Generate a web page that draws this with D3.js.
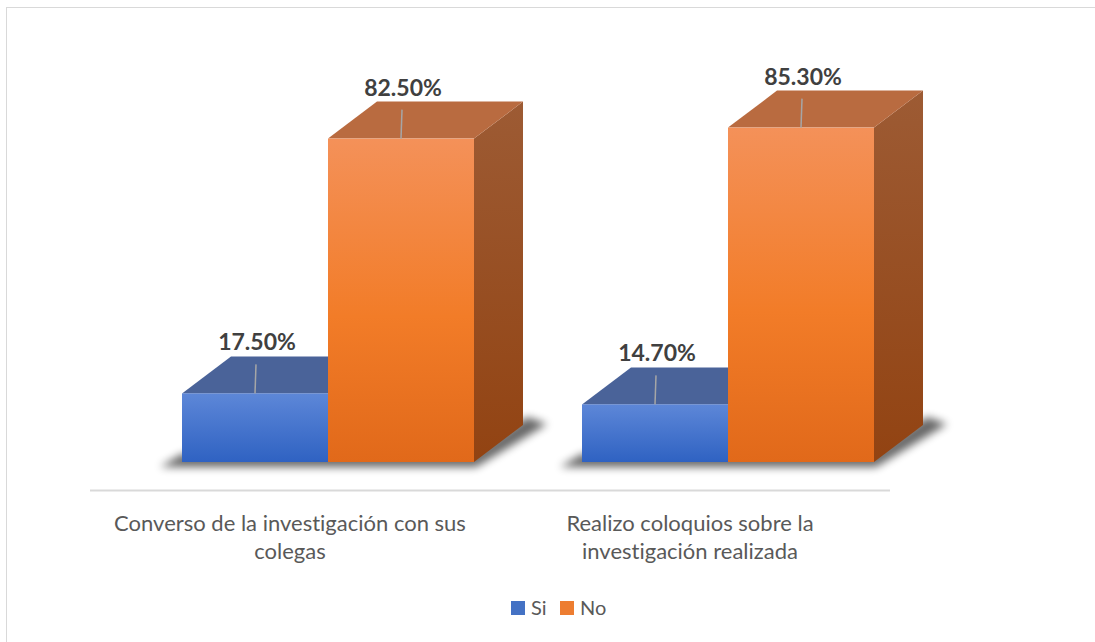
<!DOCTYPE html>
<html>
<head>
<meta charset="utf-8">
<script src="https://cdnjs.cloudflare.com/ajax/libs/d3/7.8.5/d3.min.js"></script>
<style>
  body { margin: 0; background: #fff; }
  svg { display: block; font-family: Lato, "Open Sans", sans-serif; font-variant-ligatures: none; }
  .catLabel { fill: #595959; font-size: 22px; }
  .valLabel { fill: #404040; font-size: 23px; font-weight: bold; }
  .legend text { fill: #595959; font-size: 20px; }
</style>
</head>
<body>
<script>
var w = 1095;
var h = 642;

// data
var categories = ["Converso de la investigación con sus colegas",
                  "Realizo coloquios sobre la investigación realizada"];
var categoryLines = [["Converso de la investigación con sus", "colegas"],
                     ["Realizo coloquios sobre la", "investigación realizada"]];
var series = ["Si", "No"];
var siValues = [17.5, 14.7];
var noValues = [82.5, 85.3];
var valueLabels = [["17.50%", "82.50%"], ["14.70%", "85.30%"]];

// 3d depth offset
var dx = 49, dy = -37;
var base = 462;

var xScale = d3.scaleBand().domain(categories).range([90, 890]);
var inner = d3.scaleBand().domain(series).range([92, 384]).padding(0);
var yScale = d3.scaleLinear().domain([0, 100]).range([base, 70]);

var svg = d3.select("body").append("svg")
    .attr("width", w)
    .attr("height", h);

var defs = svg.append("defs");

function vGrad(id, stops) {
    var g = defs.append("linearGradient").attr("id", id)
        .attr("x1", 0).attr("y1", 0).attr("x2", 0).attr("y2", 1);
    stops.forEach(function(s) {
        g.append("stop").attr("offset", s[0]).attr("stop-color", s[1]);
    });
}
vGrad("siFront", [[0, "#5d87d8"], [1, "#2f62c2"]]);
vGrad("noFront", [[0, "#f49159"], [0.55, "#f27c28"], [1, "#e1691a"]]);
vGrad("noSide", [[0, "#9d5b34"], [1, "#924312"]]);
vGrad("siSide", [[0, "#3f5a8f"], [1, "#24468a"]]);

defs.append("filter").attr("id", "blur")
    .attr("x", "-20%").attr("y", "-50%").attr("width", "140%").attr("height", "200%")
    .append("feGaussianBlur").attr("stdDeviation", 4);

var colors = {
    Si: { front: "url(#siFront)", top: "#4a6399", side: "url(#siSide)" },
    No: { front: "url(#noFront)", top: "#b96b40", side: "url(#noSide)" }
};

// outer frame
svg.append("rect")
    .attr("x", 6.5).attr("y", 7.5)
    .attr("width", 1100).attr("height", 700)
    .attr("fill", "none")
    .attr("stroke", "#d9d9d9")
    .attr("stroke-width", 1);

// floor line
svg.append("line")
    .attr("x1", xScale.range()[0]).attr("x2", xScale.range()[1])
    .attr("y1", 490.5).attr("y2", 490.5)
    .attr("stroke", "#d9d9d9")
    .attr("stroke-width", 2);

var rows = categories.map(function(c, i) {
    return { cat: c, values: [
        { key: "Si", value: siValues[i], label: valueLabels[i][0] },
        { key: "No", value: noValues[i], label: valueLabels[i][1] }
    ]};
});

var groups = svg.selectAll(".group")
    .data(rows)
    .enter().append("g")
    .attr("class", "group")
    .attr("transform", function(d) { return "translate(" + xScale(d.cat) + ",0)"; });

// shadows under each group
groups.append("polygon")
    .attr("points", function() {
        var x0 = inner("Si"), x1 = inner("No") + inner.bandwidth();
        return [[x0 - 22, base + 5], [x1 + 2, base + 5],
                [x1 + dx + 24, base + dy - 1], [x1 + dx + 4, base + dy - 8],
                [x1, base - 8], [x0, base - 8]].join(" ");
    })
    .attr("fill", "#000")
    .attr("opacity", 0.6)
    .attr("filter", "url(#blur)");

var bars = groups.selectAll(".bar")
    .data(function(d) { return d.values; })
    .enter().append("g")
    .attr("class", "bar");

// side face
bars.append("polygon")
    .attr("points", function(d) {
        var x1 = inner(d.key) + inner.bandwidth(), yt = yScale(d.value);
        return [[x1, yt], [x1 + dx, yt + dy], [x1 + dx, base + dy], [x1, base]].join(" ");
    })
    .attr("fill", function(d) { return colors[d.key].side; });

// top face
bars.append("polygon")
    .attr("points", function(d) {
        var x0 = inner(d.key), x1 = x0 + inner.bandwidth(), yt = yScale(d.value);
        return [[x0, yt], [x0 + dx, yt + dy], [x1 + dx, yt + dy], [x1, yt]].join(" ");
    })
    .attr("fill", function(d) { return colors[d.key].top; });

// front face
bars.append("rect")
    .attr("x", function(d) { return inner(d.key); })
    .attr("y", function(d) { return yScale(d.value); })
    .attr("width", inner.bandwidth())
    .attr("height", function(d) { return base - yScale(d.value); })
    .attr("fill", function(d) { return colors[d.key].front; });

// leader lines
bars.append("line")
    .attr("x1", function(d) { return inner(d.key) + inner.bandwidth() / 2 + 1; })
    .attr("x2", function(d) { return inner(d.key) + inner.bandwidth() / 2; })
    .attr("y1", function(d) { return yScale(d.value) + dy + 8; })
    .attr("y2", function(d) { return yScale(d.value); })
    .attr("stroke", "#a6a6a6")
    .attr("stroke-width", 1.5);

// value labels
bars.append("text")
    .attr("class", "valLabel")
    .attr("text-anchor", "middle")
    .attr("x", function(d) { return inner(d.key) + inner.bandwidth() / 2 + 2; })
    .attr("y", function(d) { return yScale(d.value) + dy - 6; })
    .text(function(d) { return d.label; });

// category labels
svg.selectAll(".catLabel")
    .data(categories)
    .enter().append("text")
    .attr("class", "catLabel")
    .attr("text-anchor", "middle")
    .attr("x", function(d) { return xScale(d) + xScale.bandwidth() / 2; })
    .attr("y", 531)
    .each(function(d, i) {
        var t = d3.select(this);
        categoryLines[i].forEach(function(line, j) {
            t.append("tspan")
                .attr("x", xScale(d) + xScale.bandwidth() / 2)
                .attr("dy", j === 0 ? 0 : 28)
                .text(line);
        });
    });

// legend
var legendX = [511, 560];
var legend = svg.append("g").attr("class", "legend");
var items = legend.selectAll("g")
    .data(series)
    .enter().append("g")
    .attr("transform", function(d, i) { return "translate(" + legendX[i] + ",601)"; });
items.append("rect")
    .attr("width", 14).attr("height", 14)
    .attr("fill", function(d) { return d === "Si" ? "#4472c4" : "#ed7d31"; });
items.append("text")
    .attr("x", 20).attr("y", 14)
    .text(function(d) { return d; });
</script>
</body>
</html>
